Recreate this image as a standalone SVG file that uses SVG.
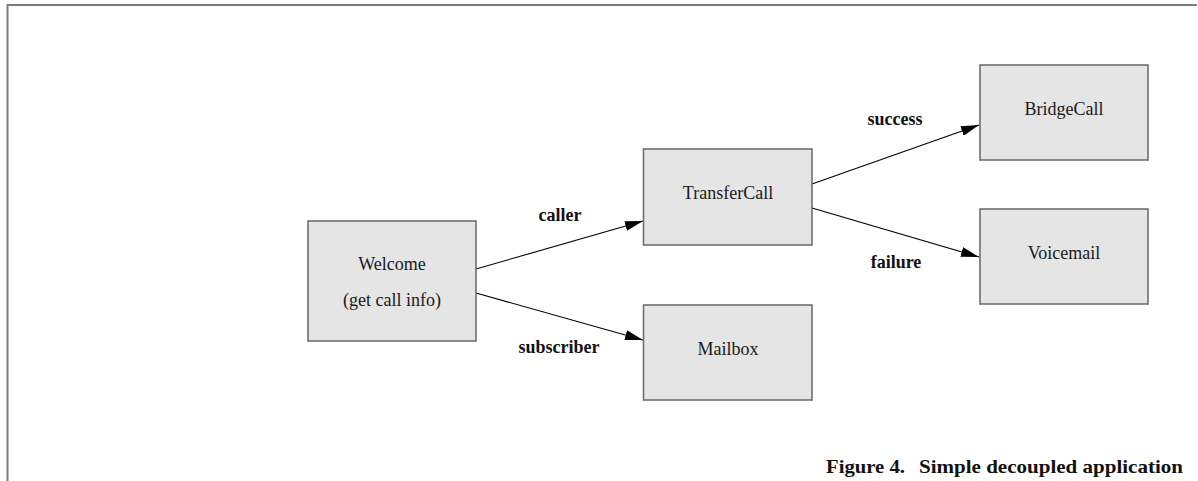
<svg xmlns="http://www.w3.org/2000/svg" width="1198" height="481" viewBox="0 0 1198 481">
<style>
.box{fill:#e5e5e5;stroke:#6e6e6e;stroke-width:1.6}
.nt{font-family:"Liberation Serif","Times New Roman",serif;font-size:18px;fill:#1a1a1a;text-anchor:middle}
.lb{font-family:"Liberation Serif","Times New Roman",serif;font-size:18px;font-weight:bold;fill:#111;text-anchor:middle}
.cap{font-family:"Liberation Serif","Times New Roman",serif;font-size:19px;font-weight:bold;fill:#111}
.edge{stroke:#000;stroke-width:1.1;fill:none;marker-end:url(#ah)}
</style>
<defs>
<marker id="ah" viewBox="0 0 18 10" refX="18" refY="5" markerWidth="18" markerHeight="10" markerUnits="userSpaceOnUse" orient="auto">
<path d="M0,0 L18,5 L0,10 Z" fill="#000"/>
</marker>
</defs>
<rect width="1198" height="481" fill="#fff"/>
<g id="frame" stroke="#7a7a7a" stroke-width="2" fill="none">
<path d="M7.5,481 V5 H1197"/>
</g>
<g id="connectors">
<line class="edge" x1="476" y1="269" x2="643" y2="221"/>
<line class="edge" x1="476" y1="293" x2="643" y2="340"/>
<line class="edge" x1="812" y1="184" x2="979" y2="125"/>
<line class="edge" x1="812" y1="208" x2="979" y2="257"/>
<text class="lb" x="560" y="221">caller</text>
<text class="lb" x="559" y="353">subscriber</text>
<text class="lb" x="895" y="125">success</text>
<text class="lb" x="896" y="268">failure</text>
</g>
<g id="welcome">
<rect class="box" x="308" y="221" width="168" height="120"/>
<text class="nt" x="392" y="270">Welcome</text>
<text class="nt" x="392" y="306">(get call info)</text>
</g>
<g id="transfercall">
<rect class="box" x="643.5" y="149" width="168.5" height="96"/>
<text class="nt" x="728" y="199">TransferCall</text>
</g>
<g id="mailbox">
<rect class="box" x="643.5" y="305" width="168.5" height="95"/>
<text class="nt" x="728" y="355">Mailbox</text>
</g>
<g id="bridgecall">
<rect class="box" x="980" y="65" width="168" height="95"/>
<text class="nt" x="1064" y="115">BridgeCall</text>
</g>
<g id="voicemail">
<rect class="box" x="980" y="209" width="168" height="95"/>
<text class="nt" x="1064" y="259">Voicemail</text>
</g>
<g id="caption">
<text class="cap" y="473"><tspan x="826" textLength="79" lengthAdjust="spacingAndGlyphs">Figure 4.</tspan><tspan x="919" textLength="264" lengthAdjust="spacingAndGlyphs">Simple decoupled application</tspan></text>
</g>
</svg>
